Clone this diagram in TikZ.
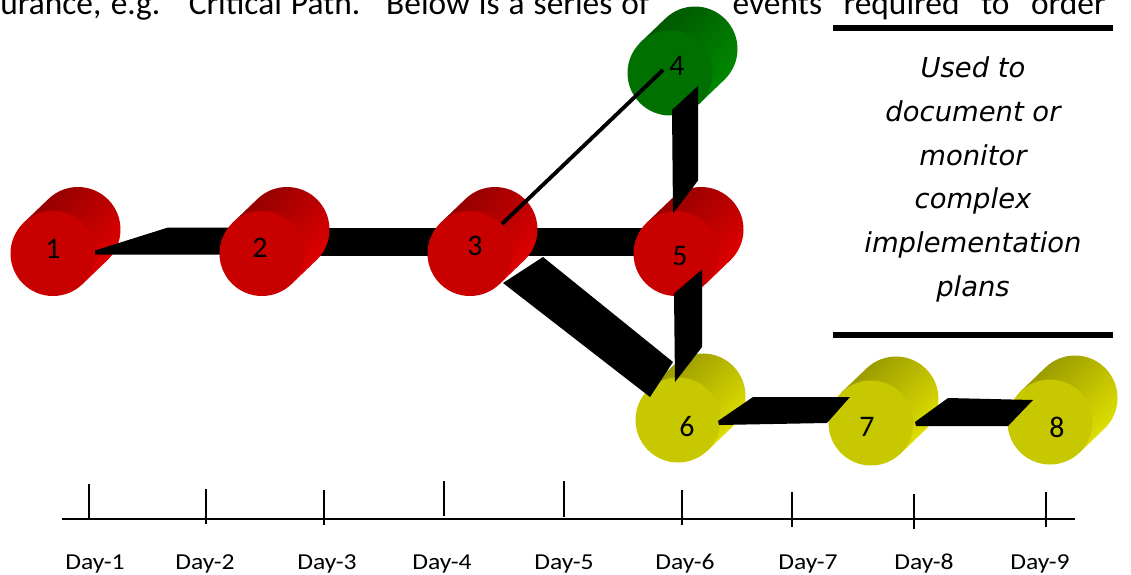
\documentclass[tikz,border=0pt]{standalone}
\usepackage{fontspec}
\setmainfont{Carlito}
\newfontfamily\notefont{DejaVu Sans}
\newfontfamily\dayfont{Carlito}[FakeStretch=1.12]
\usetikzlibrary{calc}

% drum colours: flat face, lit side, shadowed rim
\definecolor{redface}{RGB}{200,0,0}
\definecolor{redlite}{RGB}{228,0,0}
\definecolor{reddark}{RGB}{145,0,0}
\definecolor{greenface}{RGB}{0,112,0}
\definecolor{greenlite}{RGB}{0,140,0}
\definecolor{greendark}{RGB}{0,85,0}
\definecolor{yellowface}{RGB}{200,200,0}
\definecolor{yellowlite}{RGB}{228,228,0}
\definecolor{yellowdark}{RGB}{150,150,0}

% #1 face centre, #2 colour, #3 number, #4 shift of the number
\newcommand{\drum}[4]{%
  \shade[top color=#2dark, bottom color=#2lite, shading angle=45]
    ($(#1)+(46.1:42.5)$) -- ++(25,-24)
    arc[start angle=46.1, end angle=-133.9, radius=42.5] -- ++(-25,24) -- cycle;
  \fill[#2face] (#1) circle[radius=42.5];
  \node[num] (#1n) at ($(#1)+(#4)$) {#3};
}

\begin{document}
\begin{tikzpicture}[x=0.02cm, y=-0.02cm,
    num/.style={font=\fontsize{17}{17}\selectfont, inner sep=0pt},
    band/.style={fill=black},
    link/.style={line width=2.2pt},
    rule/.style={line width=3.3pt},
    axis/.style={line width=1.7pt},
    tick/.style={line width=1.1pt},
    day/.style={font=\dayfont\fontsize{13}{13}\selectfont, anchor=base, inner sep=0pt},
    note/.style={font=\notefont\itshape\fontsize{15.6}{25}\selectfont, align=center, inner sep=0pt}
  ]
  \useasboundingbox (0,0) rectangle (1131,574);
  \clip (0,0) rectangle (1131,574);

  % running text of the page, cut off above
  \node[anchor=base west, inner sep=0pt, font=\fontsize{19}{19}\selectfont] (txta) at (0,15)
    {\makebox[12.98cm][s]{urance, e.g. “Critical Path.” Below is a series of}};
  \node[anchor=base east, inner sep=0pt, font=\fontsize{19}{19}\selectfont] (txtb) at (1106,15)
    {\makebox[7.46cm][s]{events required to order}};

  % face centres of the events
  \coordinate (c1) at (53,253.5);
  \coordinate (c2) at (262,253.5);
  \coordinate (c3) at (470,253.5);
  \coordinate (c4) at (670,73);
  \coordinate (c5) at (676,253.5);
  \coordinate (c6) at (678,420);
  \coordinate (c7) at (871,423);
  \coordinate (c8) at (1050,422);

  % links running behind the drums
  \fill[band] ($(c2)+(0,-26)$) rectangle ($(c3)+(0,2)$);
  \fill[band] ($(c3)+(0,-26)$) rectangle ($(c5)+(0,2)$);

  \drum{c1}{red}{1}{0,-5}
  \fill[band] ($(c1)+(42,-3)$) -- ($(c1)+(115,-26)$) -- ($(c2)+(0,-26)$)
    -- ($(c2)+(0,1)$) -- ($(c1)+(42,1)$) -- cycle;
  \drum{c2}{red}{2}{-2,-6}
  \drum{c3}{red}{3}{5,-8}
  \drum{c4}{green}{4}{7,-7}
  \drum{c5}{red}{5}{4,3}
  \drum{c6}{yellow}{6}{9,7}
  \drum{c7}{yellow}{7}{-4,4}
  \drum{c8}{yellow}{8}{7,5}

  % links lying over the drums
  \fill[band] ($(c4)+(2,37)$) -- ($(c4)+(28,13)$) -- ($(c5)+(22,-73)$) -- ($(c5)+(-3,-40)$) -- cycle;
  \fill[band] ($(c5)+(-2,40)$) -- ($(c5)+(26,16)$) -- ($(c6)+(24,-73)$) -- ($(c6)+(-3,-38)$) -- cycle;
  \fill[band] ($(c3)+(33,29.5)$) -- ($(c3)+(73,3.5)$) -- ($(c6)+(-5,-58)$) -- ($(c6)+(-28,-23)$) -- cycle;
  \fill[band] ($(c6)+(40,1)$) -- ($(c6)+(75,-23)$) -- ($(c7)+(-21,-26)$)
    -- ($(c7)+(-44,0)$) -- ($(c6)+(41,5)$) -- cycle;
  \fill[band] ($(c7)+(44,-1)$) -- ($(c7)+(77,-25)$) -- ($(c8)+(-17,-22)$)
    -- ($(c8)+(-42,4)$) -- ($(c7)+(45,3)$) -- cycle;
  \draw[link] ($(c3)+(32,-29.5)$) -- ($(c4)+(-7,-3)$);

  % side note between two rules
  \draw[rule] (833,28) -- (1113,28);
  \draw[rule] (833,335) -- (1113,335);
  \node[note, anchor=north] (note) at (973,56)
    {Used to\\document or\\monitor\\complex\\implementation\\plans};

  % day scale
  \draw[axis] (62,519) -- (1075,519);
  \foreach \x/\a/\b/\lx [count=\i] in {89/484/518/95, 206/489/524/205, 324/490/525/327,
      444/481/516/442, 564/481/517/564, 682/490/525/685, 792/492/527/808,
      914/494/529/924, 1046/492/527/1040}{
    \draw[tick] (\x,\a) -- (\x,\b);
    \node[day] (d\i) at (\lx,569) {Day-\i};
  }
\end{tikzpicture}
\end{document}
